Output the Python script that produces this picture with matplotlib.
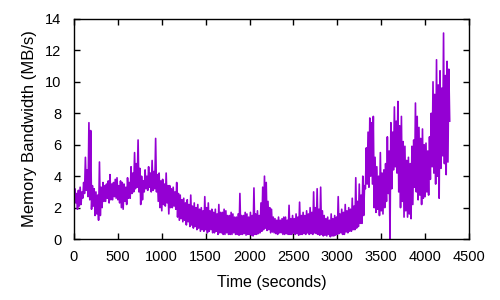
import numpy as np
import matplotlib
matplotlib.use("Agg")
import matplotlib.pyplot as plt

plt.rcParams['font.family'] = ['Liberation Sans', 'DejaVu Sans']

# memory bandwidth, four readings per 40 s window:
# lo, hi, lo2, hi2 at t, t+10, t+20, t+30 seconds
step = 10
lo = [2.0, 1.9, 2.2, 2.9, 2.7,
      1.9, 1.5, 1.2, 2.0, 2.4,
      2.3, 2.5, 2.6, 2.3, 1.9,
      2.2, 2.6, 3.0, 3.3, 2.2,
      3.0, 3.1, 3.0, 3.2, 2.4,
      1.8, 2.1, 1.6, 2.0, 1.9,
      1.2, 1.1, 0.9, 0.8, 0.7,
      0.6, 0.5, 0.5, 0.4, 0.6,
      0.4, 0.3, 0.4, 0.3, 0.3,
      0.3, 0.3, 0.25, 0.3, 0.25,
      0.3, 0.2, 0.3, 0.4, 0.6,
      0.55, 0.4, 0.4, 0.3, 0.4,
      0.3, 0.3, 0.3, 0.3, 0.25,
      0.3, 0.3, 0.3, 0.3, 0.35,
      0.25, 0.2, 0.2, 0.15, 0.2,
      0.3, 0.4, 0.3, 0.4, 0.5,
      0.6, 0.8, 1.0, 3.2, 3.3,
      3.5, 1.7, 1.5, 1.6, 2.4,
      0.0, 4.4, 4.2, 2.0, 1.4,
      1.4, 1.3, 3.3, 2.5, 2.2,
      2.7, 2.8, 4.6, 3.5, 2.6,
      5.3, 4.1]
hi = [3.2, 3.1, 3.0, 5.2, 7.4,
      3.4, 3.0, 4.9, 3.6, 3.5,
      4.1, 3.6, 3.9, 3.7, 3.5,
      3.9, 4.6, 5.5, 6.3, 4.0,
      4.4, 4.6, 5.0, 6.4, 4.2,
      3.8, 4.2, 3.4, 3.3, 3.6,
      2.8, 2.6, 2.5, 2.8, 2.3,
      2.2, 2.0, 2.7, 2.3, 1.9,
      1.9, 2.2, 1.7, 1.8, 1.5,
      1.6, 1.4, 2.9, 1.5, 1.6,
      1.7, 3.25, 1.8, 2.3, 4.0,
      2.4, 1.9, 1.3, 1.4, 1.3,
      1.4, 2.15, 1.5, 1.6, 2.35,
      1.7, 1.8, 2.0, 3.0, 3.2,
      3.3, 1.5, 1.4, 1.6, 1.5,
      2.7, 1.9, 2.2, 2.0, 2.6,
      3.9, 3.5, 4.0, 5.8, 7.7,
      7.8, 4.6, 5.5, 4.4, 6.5,
      7.4, 8.4, 8.75, 7.8, 5.9,
      5.2, 5.9, 8.65, 7.1, 7.0,
      6.1, 6.5, 10.0, 11.4, 10.7,
      13.1, 11.3]
lo2 = [2.3, 2.1, 2.6, 3.1, 2.5,
       2.1, 1.6, 1.5, 2.4, 2.6,
       2.5, 2.7, 2.5, 2.0, 2.4,
       2.6, 2.9, 3.2, 3.0, 2.5,
       3.2, 3.3, 3.1, 3.0, 2.0,
       2.2, 2.3, 2.0, 2.1, 1.4,
       1.3, 1.2, 1.1, 0.9, 0.8,
       0.7, 0.6, 0.6, 0.5, 0.4,
       0.5, 0.4, 0.3, 0.4, 0.3,
       0.4, 0.3, 0.3, 0.35, 0.3,
       0.25, 0.3, 0.35, 0.5, 0.7,
       0.6, 0.45, 0.35, 0.4, 0.3,
       0.35, 0.3, 0.4, 0.35, 0.3,
       0.35, 0.4, 0.35, 0.4, 0.3,
       0.3, 0.25, 0.3, 0.2, 0.25,
       0.35, 0.3, 0.45, 0.5, 0.6,
       0.7, 1.0, 1.5, 3.5, 4.0,
       2.0, 1.9, 1.8, 2.0, 2.9,
       3.2, 4.6, 3.0, 2.4, 1.8,
       1.6, 2.2, 3.0, 2.8, 2.6,
       3.0, 3.8, 4.2, 4.0, 4.5,
       4.8, 4.9]
hi2 = [2.9, 3.3, 3.6, 4.4, 6.9,
       3.2, 2.8, 3.3, 3.4, 3.7,
       3.5, 3.8, 3.4, 3.6, 3.3,
       3.6, 4.2, 4.8, 4.5, 3.7,
       4.0, 4.2, 4.3, 4.1, 3.7,
       3.5, 3.4, 3.2, 3.0, 2.9,
       2.5, 2.3, 2.2, 2.1, 2.0,
       1.9, 1.8, 2.0, 1.8, 1.7,
       1.6, 1.7, 1.9, 1.5, 1.7,
       1.4, 1.6, 1.5, 1.7, 1.4,
       1.5, 1.6, 1.5, 3.3, 3.6,
       2.0, 1.4, 1.2, 1.2, 1.4,
       1.2, 1.3, 1.3, 1.4, 1.5,
       1.5, 1.6, 1.7, 2.0, 1.9,
       1.8, 1.3, 1.2, 1.3, 1.4,
       1.6, 1.7, 1.8, 1.9, 2.1,
       2.4, 2.8, 3.4, 6.8, 7.4,
       5.2, 4.0, 4.2, 4.8, 5.6,
       6.8, 7.5, 7.2, 6.2, 5.0,
       4.8, 6.3, 7.8, 6.4, 6.0,
       5.6, 8.0, 9.2, 9.8, 9.6,
       10.4, 10.8]
last = 7.5

vals = []
for a, b, c, d in zip(lo, hi, lo2, hi2):
    vals += [a, b, c, d]
vals.append(last)
t = np.arange(len(vals)) * step

fig = plt.figure(figsize=(5, 3), dpi=100)
ax = fig.add_axes([0.148, 0.203, 0.79, 0.734])
ax.plot(t, vals, color='#9400d3', lw=1.2)

ax.set_xlim(0, 4500)
ax.set_ylim(0, 14)
ax.set_xticks(range(0, 4501, 500))
ax.set_yticks(range(0, 15, 2))
ax.tick_params(direction='in', top=True, right=True, length=4, width=1,
               labelsize=10.5)
ax.tick_params(axis='x', pad=8)
ax.tick_params(axis='y', pad=9)
for s in ax.spines.values():
    s.set_linewidth(1)
ax.set_xlabel('Time (seconds)', fontsize=11.5, labelpad=8)
ax.set_ylabel('Memory Bandwidth (MB/s)', fontsize=12, labelpad=6)

fig.savefig('out.png', dpi=100)
